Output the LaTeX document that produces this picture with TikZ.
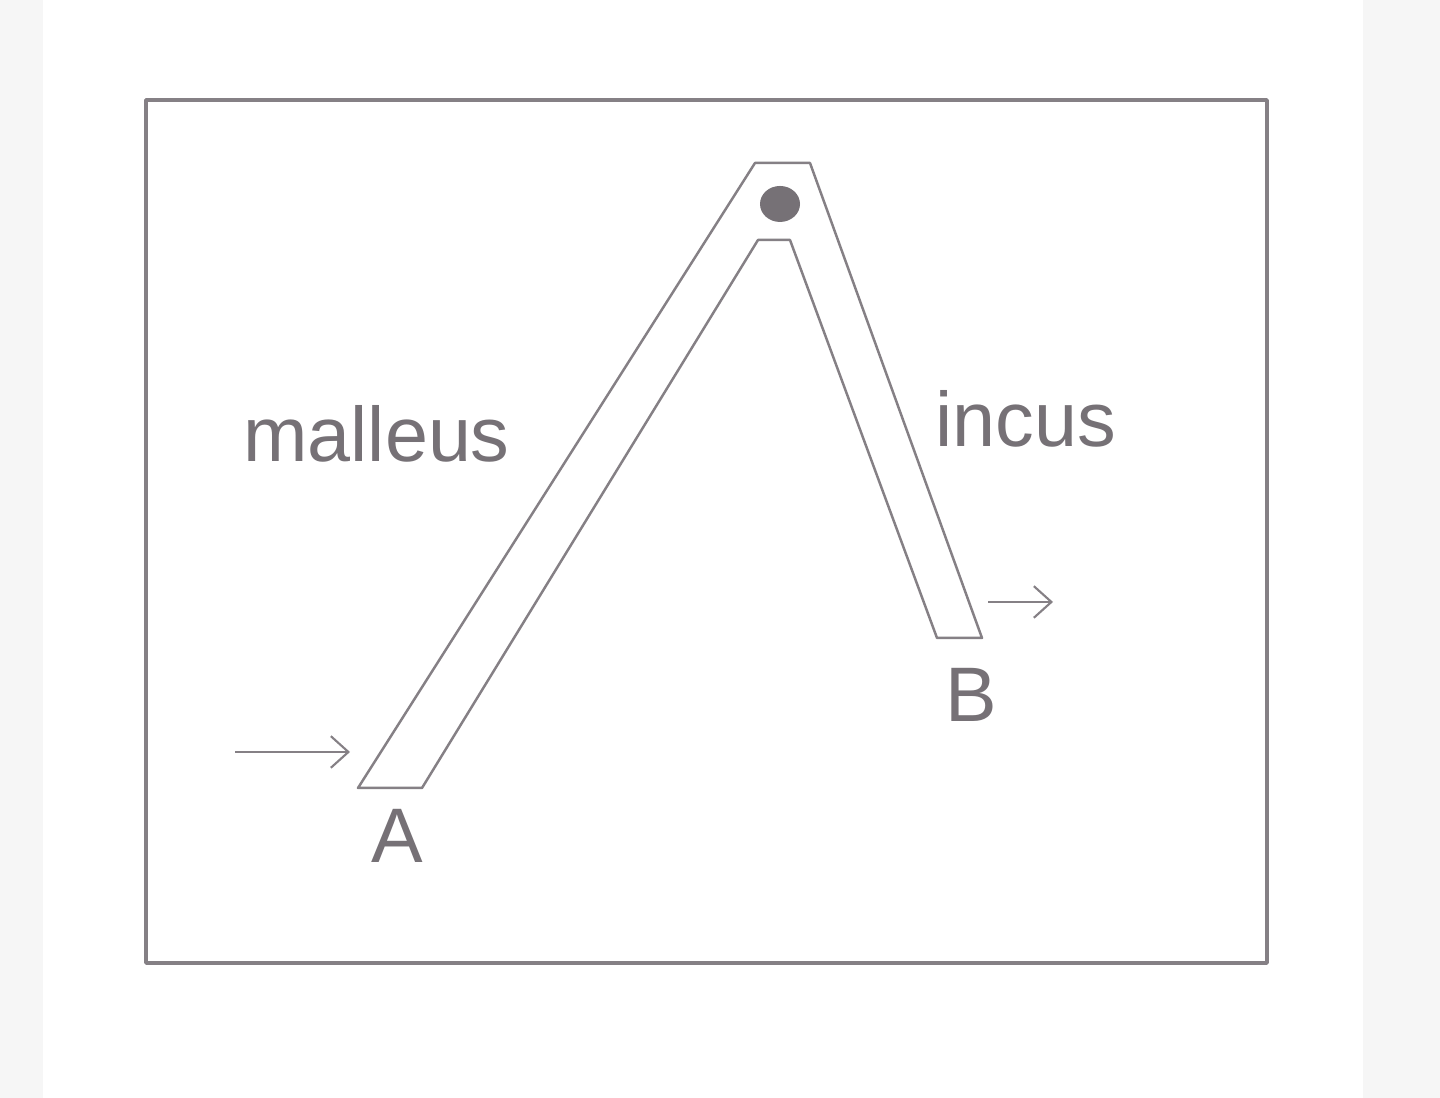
\documentclass[tikz,border=0pt]{standalone}
\usepackage{fontspec}
\setmainfont{Liberation Sans}
\usetikzlibrary{arrows.meta}
\definecolor{edgegray}{HTML}{858085}
\definecolor{labelgray}{HTML}{767176}
\definecolor{sidegray}{HTML}{F6F6F6}
\begin{document}
\begin{tikzpicture}[
        outline/.style={draw=edgegray, line width=0.7pt, line join=round},
        label/.style={text=labelgray, font=\fontsize{22}{26}\selectfont, inner sep=0pt, anchor=base},
        push/.style={draw=edgegray, line width=0.6pt, -{Straight Barb[length=5pt,width=9pt]}}
    ]
    \fill[sidegray] (0,0) rectangle (14.4,10.98);
    \fill[white] (0.43,0) rectangle (13.63,10.98);
    \useasboundingbox (0,0) rectangle (14.4,10.98);
    \draw[outline, line width=1pt] (1.46,9.98) rectangle (12.67,1.35);
    % the lever: malleus arm down to A, incus arm down to B
    \draw[outline] (3.58,3.10) -- (7.55,9.35) -- (8.10,9.35) -- (9.82,4.60)
                   -- (9.37,4.60) -- (7.90,8.58) -- (7.58,8.58) -- (4.22,3.10) -- cycle;
    \fill[labelgray] (7.80,8.94) ellipse (0.2 and 0.18);
    \node[label] (malleus) at (3.765,6.36) {malleus};
    \node[label] (incus) at (10.26,6.51) {incus};
    \node[label] (A) at (3.97,2.35) {A};
    \node[label] (B) at (9.71,3.76) {B};
    \coordinate (inA) at (2.35,3.46);
    \coordinate (atA) at (3.50,3.46);
    \coordinate (atB) at (9.88,4.96);
    \coordinate (outB) at (10.53,4.96);
    \draw[push] (inA) -- (atA);
    \draw[push] (atB) -- (outB);
\end{tikzpicture}
\end{document}
